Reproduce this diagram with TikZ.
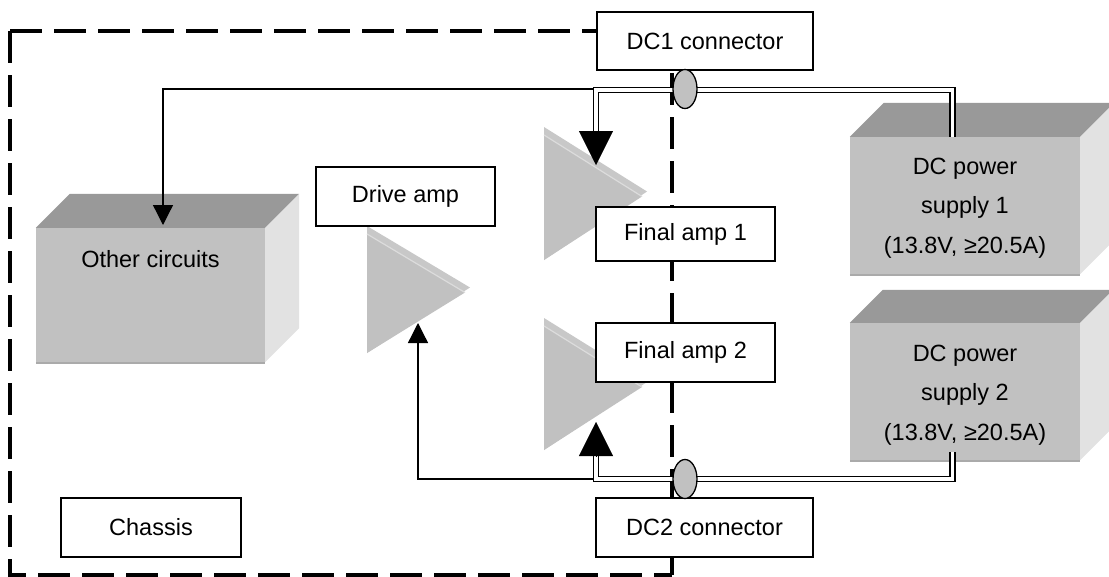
\documentclass[tikz,border=0pt]{standalone}
\usepackage{fontspec}
\setmainfont{Liberation Sans}
\usetikzlibrary{arrows.meta,shapes.geometric}
\definecolor{facegray}{RGB}{193,193,193}
\definecolor{topgray}{RGB}{153,153,153}
\definecolor{sidegray}{RGB}{226,226,226}
\definecolor{bevelgray}{RGB}{200,200,200}
\definecolor{edgegray}{RGB}{220,220,220}
\definecolor{bottomgray}{RGB}{170,170,170}
\begin{document}
\begin{tikzpicture}[x=1pt,y=-1pt,
  lbl/.style={font=\fontsize{23.5}{39.5}\selectfont},
  box/.style={draw=black, line width=1.2pt, fill=white, inner sep=0pt, lbl},
  front/.style={fill=facegray, draw=none, inner sep=0pt},
  topface/.style={fill=topgray},
  sideface/.style={fill=sidegray},
  chassisline/.style={line width=4pt, dash pattern=on 32pt off 12pt},
  wire/.style={line width=1.3pt},
  dblwire/.style={line width=1.3pt, double=white, double distance=3.8pt},
  smalltip/.style={-{Triangle[width=20pt,length=20pt]}},
  bigtip/.style={-{Triangle[width=34pt,length=34pt]}},
  connector/.style={ellipse, draw=black, line width=1.3pt, fill=facegray, minimum width=24pt, minimum height=39pt, inner sep=0pt},
  amptri/.style={fill=bevelgray}
]
\useasboundingbox (0,0) rectangle (1109,576);
\clip (0,0) rectangle (1109,576);

% chassis outline
\draw[chassisline] (10,31) -- (10,575) -- (672,575);
\draw[chassisline] (10,31) -- (672,31) -- (672,575);

% 3D boxes
\newcommand{\cube}[2]{%
  \fill[topface] (#1.north west) -- ++(#2,-#2) -- ([shift={(#2,-#2)}]#1.north east) -- (#1.north east) -- cycle;
  \fill[sideface] (#1.north east) -- ++(#2,-#2) -- ([shift={(#2,-#2)}]#1.south east) -- (#1.south east) -- cycle;
  \draw[bottomgray, line width=1.5pt] ([yshift=-0.75pt]#1.south west) -- ([yshift=-0.75pt]#1.south east);
}
\node[front, minimum width=229pt, minimum height=134pt] (oc) at (150.5,295) {};
\cube{oc}{34}
\node[lbl] (octext) at (150.5,259) {Other circuits};

\node[front, minimum width=230pt, minimum height=137pt] (ps1) at (965,205.5) {};
\cube{ps1}{34}
\node[lbl, align=center] (ps1text) at (965,208) {DC power\\supply 1\\(13.8V, ≥20.5A)};

\node[front, minimum width=230pt, minimum height=137pt] (ps2) at (965,391.5) {};
\cube{ps2}{33}
\node[lbl, align=center] (ps2text) at (965,395) {DC power\\supply 2\\(13.8V, ≥20.5A)};

% amplifier triangles
\newcommand{\amp}[4]{% left x, top y, bottom y, tip x
  \fill[amptri] (#1,#2) -- (#4,{(#2+#3)/2-2}) -- (#1,#3) -- cycle;
  \fill[facegray] (#1,#2+8) -- (#4-5,{(#2+#3)/2+3}) -- (#1,#3) -- cycle;
  \draw[edgegray, line width=1.2pt] (#1,#2+8) -- (#4-5,{(#2+#3)/2+3});
}
\amp{367}{226}{353}{470}
\coordinate (datip) at (418,323);
\amp{544}{127}{260}{647}
\coordinate (fa1tip) at (596,165);
\amp{544}{318}{450}{647}
\coordinate (fa2tip) at (596,422);

% power wiring
\coordinate (j1) at (596,90);
\coordinate (j2) at (596,479);
\coordinate (b1) at (596,131);
\coordinate (b2) at (596,456);

\draw[wire, smalltip] (596,89) -- (163,89) -- (163,225);
\draw[wire, smalltip] (j2) -- (418,479) -- (datip);

\draw[dblwire] ([xshift=-12.5pt]ps1.north) -- ++(0,-47) -| (b1);
\draw[dblwire] ([xshift=-12.5pt,yshift=8pt]ps2.south) |- (j2) -- (b2);
\draw[bigtip] (b1) -- (fa1tip);
\draw[bigtip] (b2) -- (fa2tip);

% label boxes
\node[box, minimum width=216pt, minimum height=58pt] (dc1) at (705,41) {DC1 connector};
\node[box, minimum width=179pt, minimum height=59pt] (drive) at (405.5,196.5) {Drive amp};
\node[box, minimum width=179pt, minimum height=54pt] (fa1) at (685.5,234) {Final amp 1};
\node[box, minimum width=179pt, minimum height=59pt] (fa2) at (685.5,352.5) {Final amp 2};
\node[box, minimum width=217pt, minimum height=59pt] (dc2) at (704.5,527.5) {DC2 connector};
\node[box, minimum width=180pt, minimum height=59pt] (chassis) at (151,527.5) {Chassis};

% connector ellipses
\node[connector] (e1) at (685,89) {};
\node[connector] (e2) at (685,479) {};
\end{tikzpicture}
\end{document}
